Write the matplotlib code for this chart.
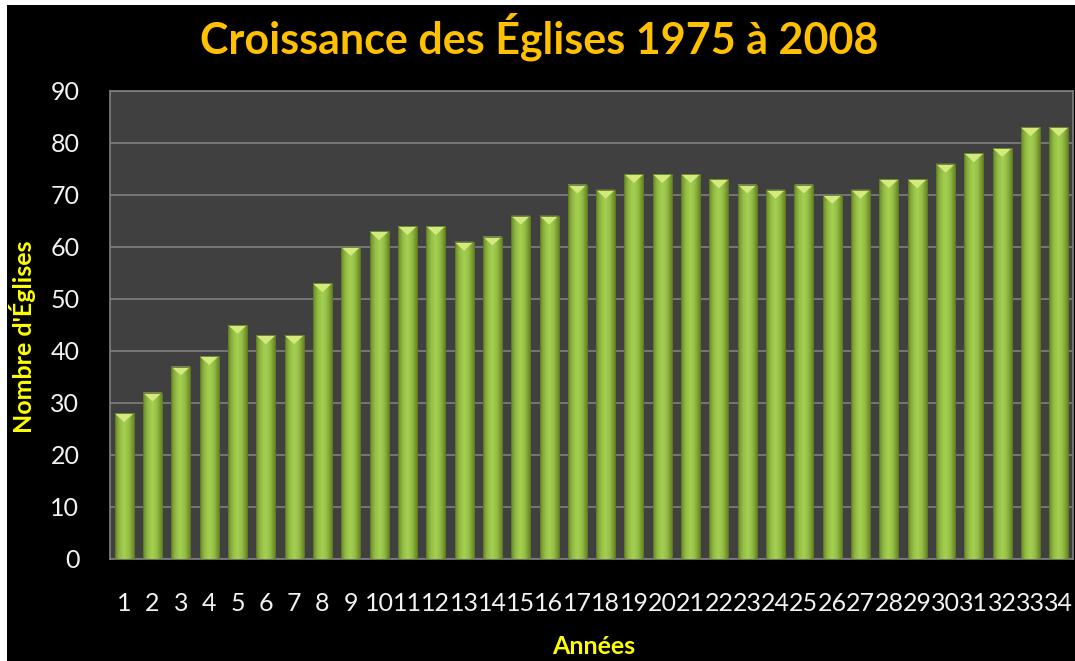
import numpy as np
import matplotlib.pyplot as plt
from matplotlib.patches import Rectangle, Polygon
from matplotlib.colors import LinearSegmentedColormap

# Données
annees = [str(i) for i in range(1, 35)]
nb_eglises = [28, 32, 37, 39, 45, 43, 43, 53, 60, 63, 64, 64, 61, 62, 66, 66, 72,
              71, 74, 74, 74, 73, 72, 71, 72, 70, 71, 73, 73, 76, 78, 79, 83, 83]
y_ticks = list(range(0, 91, 10))

titre = "Croissance des Églises 1975 à 2008"
label_x = "Années"
label_y = "Nombre d'Églises"

plt.rcParams['font.family'] = ['Lato', 'DejaVu Sans']

fig = plt.figure(figsize=(10.75, 6.61), dpi=100, facecolor='white')
# fond noir avec petite marge blanche en haut et à gauche
fig.patches.append(Rectangle((7 / 1075, 0), 1, 1 - 5 / 661, transform=fig.transFigure,
                             facecolor='black', edgecolor='none', zorder=-10))

ax = fig.add_axes([110 / 1075, 1 - 559 / 661, 963 / 1075, 468 / 661])
ax.set_facecolor('#404040')
for s in ax.spines.values():
    s.set_color('#808080')
    s.set_linewidth(1.2)

x = np.arange(len(nb_eglises))
bars = ax.bar(x, nb_eglises, width=0.67, color='#8cb43c', edgecolor='#5f7a22',
              linewidth=0.6, zorder=3)

# dégradé horizontal sur chaque barre
cmap = LinearSegmentedColormap.from_list(
    'vert', ['#6a8a25', '#93bd45', '#a6d152', '#93bd45', '#6a8a25'])
grad = np.linspace(0, 1, 64).reshape(1, -1)
for b in bars:
    x0, w, h = b.get_x(), b.get_width(), b.get_height()
    im = ax.imshow(grad, cmap=cmap, extent=(x0, x0 + w, 0, h), aspect='auto',
                   zorder=4, interpolation='bicubic')
    im.set_clip_path(b)
    # biseau clair au sommet
    tri = Polygon([(x0, h), (x0 + w, h), (x0 + w / 2, h - 1.7)], closed=True,
                  facecolor='#d2ea7e', edgecolor='none', zorder=5)
    ax.add_patch(tri)
    ax.add_patch(Rectangle((x0, 0), w, h, facecolor='none', edgecolor='#5f7a22',
                           linewidth=0.6, zorder=6))

ax.set_xlim(-0.5, len(nb_eglises) - 0.5)
ax.set_ylim(0, 90)
ax.set_yticks(y_ticks)
ax.set_xticks(x)
ax.set_xticklabels(annees)
ax.grid(axis='y', color='#808080', linewidth=1.2, zorder=1)
ax.set_axisbelow(True)
ax.tick_params(axis='both', length=0, colors='#f2f2f2', labelsize=18)
ax.tick_params(axis='x', pad=24)
ax.tick_params(axis='y', pad=22)

fig.text(0.502, 0.944, titre, ha='center', va='center', color='#ffc000',
         fontsize=31, fontweight='bold')
fig.text(0.021, 0.49, label_y, ha='center', va='center', rotation=90,
         color='#ffff00', fontsize=18, fontweight='bold')
fig.text(0.552, 0.004, label_x, ha='center', va='bottom', color='#ffff00',
         fontsize=18, fontweight='bold')

fig.savefig('out.png', dpi=100, facecolor=fig.get_facecolor())
